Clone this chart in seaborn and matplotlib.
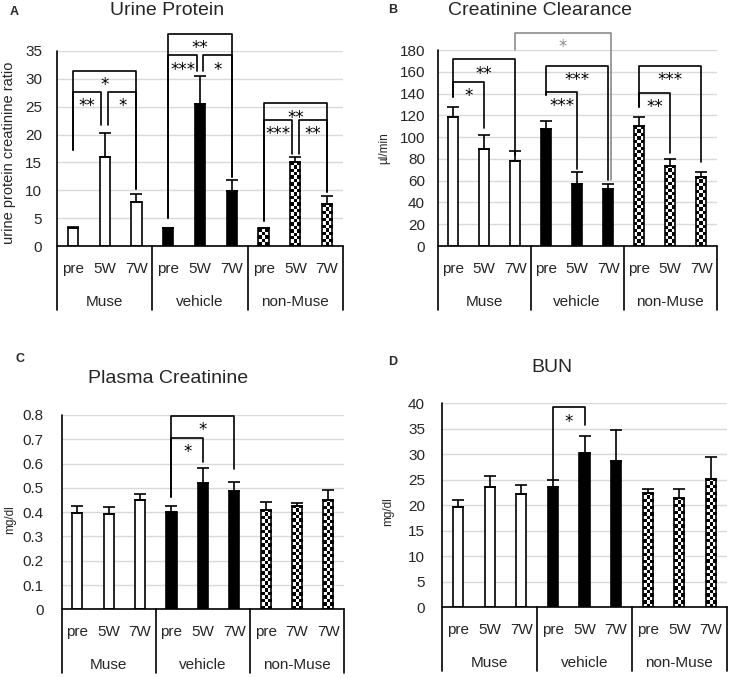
import numpy as np
import pandas as pd
import matplotlib
matplotlib.use("Agg")
import matplotlib.pyplot as plt
import matplotlib.transforms as mtransforms
import seaborn as sns

# ---------------- data ----------------
groups = ["Muse", "vehicle", "non-Muse"]
ticks_std = ["pre", "5W", "7W", "pre", "5W", "7W", "pre", "5W", "7W"]
ticks_C = ["pre", "5W", "7W", "pre", "5W", "7W", "pre", "7W", "7W"]

urine_vals = [3.3, 15.9, 7.9, 3.2, 25.4, 9.9, 3.2, 15.0, 7.5]
urine_errs = [0.2, 4.3, 1.4, 0.1, 5.1, 1.9, 0.1, 0.9, 1.5]

ccr_vals = [118.2, 89.0, 78.4, 107.0, 56.6, 52.0, 110.0, 73.8, 63.7]
ccr_errs = [9.1, 13.0, 9.1, 8.0, 11.0, 5.0, 8.8, 5.8, 3.9]

pcr_vals = [0.398, 0.391, 0.449, 0.401, 0.519, 0.489, 0.409, 0.427, 0.450]
pcr_errs = [0.029, 0.029, 0.026, 0.026, 0.061, 0.037, 0.034, 0.009, 0.040]

bun_vals = [19.6, 23.5, 22.2, 23.5, 30.3, 28.6, 22.4, 21.5, 25.1]
bun_errs = [1.4, 2.3, 1.7, 1.5, 3.3, 6.2, 0.8, 1.6, 4.4]

# significance brackets: (bar_i, bar_j, y_line, y_leg_i, y_leg_j, label, color, dx_i, dx_j)
urine_sig = [
    (0, 2, 31.4, 17.2, 10.2, "*", "black", 0, 0),
    (0, 1, 27.7, 17.2, 21.7, "**", "black", 0, -0.1),
    (1, 2, 27.7, 21.7, 10.2, "*", "black", 0.1, 0),
    (3, 5, 38.1, 5.0, 12.4, "**", "black", 0, 0),
    (3, 4, 34.2, 5.0, 31.5, "***", "black", 0, -0.1),
    (4, 5, 34.2, 31.5, 12.4, "*", "black", 0.1, 0),
    (6, 8, 25.6, 4.4, 9.7, "**", "black", 0, 0),
    (6, 7, 22.6, 4.4, 16.6, "***", "black", 0, -0.1),
    (7, 8, 22.6, 16.6, 9.7, "**", "black", 0.1, 0),
]
ccr_sig = [
    (0, 1, 150.9, 137.0, 108.0, "*", "black", 0, 0),
    (0, 2, 171.4, 137.0, 83.6, "**", "black", 0, 0),
    (3, 4, 141.7, 138.7, 71.0, "***", "black", 0, 0),
    (3, 5, 165.0, 138.7, 60.6, "***", "black", 0, 0),
    (6, 7, 140.8, 128.0, 85.0, "**", "black", 0, 0),
    (6, 8, 165.0, 128.0, 77.4, "***", "black", 0, 0),
    (2, 5, 195.9, 180.0, 60.6, "*", "#8c8c8c", 0, 0.08),
]
pcr_sig = [
    (3, 4, 0.704, 0.464, 0.608, "*", "black", 0, 0),
    (3, 5, 0.796, 0.464, 0.576, "*", "black", 0, 0),
]
bun_sig = [
    (3, 4, 39.2, 25.0, 35.8, "*", "black", 0, 0),
]

# ---------------- style ----------------
sns.set_style("white")
plt.rcParams["font.family"] = ["Liberation Sans", "DejaVu Sans"]

W, H = 731, 678
fig = plt.figure(figsize=(W / 100, H / 100), dpi=100)

LW = 1.2
palette = {"Muse": "white", "vehicle": "black", "non-Muse": "white"}


def rect(l, t, r, b):
    return [l / W, 1 - b / H, (r - l) / W, (b - t) / H]


def panel(r, vals, errs, ticklabels, ymax, ystep, sigs, ypad):
    ax = fig.add_axes(rect(*r))
    df = pd.DataFrame({
        "bar": [f"b{i}" for i in range(len(vals))],
        "value": vals,
        "group": np.repeat(groups, 3),
    })
    sns.barplot(data=df, x="bar", y="value", hue="group", palette=palette,
                dodge=False, width=0.32, edgecolor="black", linewidth=LW,
                errorbar=None, legend=False, ax=ax, zorder=2)
    ax.errorbar(np.arange(len(vals)), vals, yerr=[np.zeros(len(vals)), errs],
                fmt="none", ecolor="black", elinewidth=LW, capsize=4.3,
                capthick=LW, zorder=3)
    ax.set_xlim(-0.5, 8.5)
    ax.set_ylim(0, ymax)
    yt = np.arange(0, ymax + ystep / 2, ystep)
    ax.set_yticks(yt)
    ax.set_yticklabels([f"{v:g}" for v in yt], fontsize=11)
    ax.tick_params(axis="y", length=0, pad=ypad)
    ax.set_xticks([])
    ax.set_xlabel("")
    ax.set_ylabel("")
    ax.yaxis.grid(True, color="#d9d9d9", lw=1.0)
    ax.set_axisbelow(True)
    for s in ax.spines.values():
        s.set_visible(False)

    # checkerboard fill for non-Muse bars
    for p in ax.patches:
        xc = p.get_x() + p.get_width() / 2
        if int(round(xc)) >= 6:
            x0, w, h = p.get_x(), p.get_width(), p.get_height()
            p0 = ax.transData.transform([(x0, 0), (x0 + w, h)])
            hpx = abs(p0[1, 1] - p0[0, 1])
            nx = 3
            ny = max(1, int(round(hpx / 3.4)))
            arr = np.add.outer(np.arange(ny), np.arange(nx)) % 2
            im = ax.imshow(arr, cmap="gray", vmin=0, vmax=1, extent=[x0, x0 + w, 0, h],
                           aspect="auto", interpolation="nearest", zorder=1.9)
            im.set_clip_path(p)
            p.set_facecolor("none")

    # categorical table below axis
    trans = mtransforms.blended_transform_factory(ax.transData, ax.transAxes)
    hpx = ax.bbox.height
    fy = lambda px: -px / hpx
    ax.plot([-0.5, -0.5], [1.0, fy(64)], transform=trans, color="black", lw=LW, clip_on=False)
    for xs in [2.5, 5.5, 8.5]:
        ax.plot([xs, xs], [0, fy(64)], transform=trans, color="black", lw=LW, clip_on=False)
    ax.plot([-0.5, 8.5], [0, 0], transform=trans, color="black", lw=LW, clip_on=False, zorder=4)
    for i, t in enumerate(ticklabels):
        ax.text(i, fy(23), t, transform=trans, ha="center", va="center", fontsize=11)
    for g, name in enumerate(groups):
        ax.text(3 * g + 1, fy(56), name, transform=trans, ha="center", va="center", fontsize=11)

    # significance brackets
    for (i, j, y, yli, ylj, lab, col, dxi, dxj) in sigs:
        xi, xj = i + dxi, j + dxj
        ax.plot([xi, xi, xj, xj], [yli, y, y, ylj], color=col, lw=LW, clip_on=False, zorder=5)
        ax.annotate(lab, ((xi + xj) / 2, y), xytext=(0, -13.8), textcoords="offset points",
                    ha="center", va="baseline", fontsize=12, family="DejaVu Sans",
                    color=col, annotation_clip=False)
    return ax


panel((57, 51, 343, 246), urine_vals, urine_errs, ticks_std, 35, 5, urine_sig, 10.8)
panel((437.7, 50, 716.7, 246), ccr_vals, ccr_errs, ticks_std, 180, 20, ccr_sig, 9.1)
panel((61.7, 415, 344, 609.3), pcr_vals, pcr_errs, ticks_C, 0.8, 0.1, pcr_sig, 13)
panel((442.3, 403.3, 726.7, 607.3), bun_vals, bun_errs, ticks_std, 40, 5, bun_sig, 12.4)


def fx(px):
    return px / W


def fyy(px):
    return 1 - px / H


# titles
fig.text(fx(167), fyy(15), "Urine Protein", ha="center", va="baseline", fontsize=14)
fig.text(fx(540), fyy(15), "Creatinine Clearance", ha="center", va="baseline", fontsize=14)
fig.text(fx(168), fyy(382.7), "Plasma Creatinine", ha="center", va="baseline", fontsize=14)
fig.text(fx(552), fyy(372.3), "BUN", ha="center", va="baseline", fontsize=14)

# panel letters
fig.text(fx(10), fyy(15), "A", ha="left", va="baseline", fontsize=9, fontweight="bold")
fig.text(fx(388.3), fyy(13.3), "B", ha="left", va="baseline", fontsize=9, fontweight="bold")
fig.text(fx(15), fyy(361.7), "C", ha="left", va="baseline", fontsize=9, fontweight="bold")
fig.text(fx(387.7), fyy(365), "D", ha="left", va="baseline", fontsize=9, fontweight="bold")

# y labels
fig.text(fx(9), fyy(153), "urine protein creatinine ratio", rotation=90,
         ha="center", va="center", fontsize=10.5)
fig.text(fx(384), fyy(148), "µl/min", rotation=90, ha="center", va="center", fontsize=8.5)
fig.text(fx(10), fyy(520), "mg/dl", rotation=90, ha="center", va="center", fontsize=8.5)
fig.text(fx(388), fyy(512), "mg/dl", rotation=90, ha="center", va="center", fontsize=8.5)

fig.savefig("out.png", dpi=100)
